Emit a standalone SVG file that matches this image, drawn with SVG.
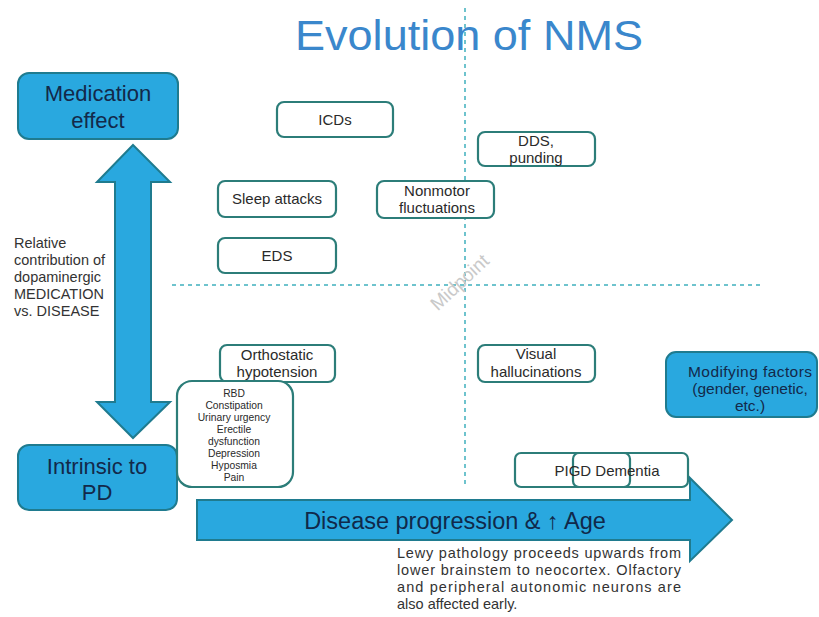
<svg xmlns="http://www.w3.org/2000/svg" width="819" height="617" viewBox="0 0 819 617">
  <style>
    .node rect { fill: #ffffff; stroke: #2c7d79; stroke-width: 2.2; }
    .node text { font-family: "Liberation Sans", Arial, sans-serif; font-size: 15px; fill: #2a2a2a; text-anchor: middle; }
    .node text.small { font-size: 10.3px; }
    .blue { fill: #29a8df; stroke: #1f7b8f; stroke-width: 2; }
    .bluetext { font-family: "Liberation Sans", Arial, sans-serif; font-size: 22px; fill: #13294a; text-anchor: middle; }
    .guide { stroke: #3fb0bd; stroke-width: 1.5; stroke-dasharray: 4 4; fill: none; }
    .body { font-family: "Liberation Sans", Arial, sans-serif; font-size: 14.5px; fill: #333333; }
    .factor { font-family: "Liberation Sans", Arial, sans-serif; font-size: 15.5px; fill: #13294a; text-anchor: middle; }
  </style>

  <rect width="819" height="617" fill="#ffffff"/>

  <!-- quadrant guides -->
  <g id="guides">
    <line class="guide" x1="465" y1="8" x2="465" y2="488"/>
    <line class="guide" x1="172" y1="285" x2="762" y2="285"/>
    <text x="0" y="0" transform="translate(464 287) rotate(-43)" font-family="'Liberation Sans', Arial, sans-serif" font-size="19" fill="#c9c9c9" text-anchor="middle">Midpoint</text>
  </g>

  <!-- title -->
  <text x="469" y="50" font-family="'Liberation Sans', Arial, sans-serif" font-size="43" fill="#3a87cc" text-anchor="middle" textLength="348" lengthAdjust="spacingAndGlyphs">Evolution of NMS</text>

  <g id="connectors">
    <!-- vertical double arrow: medication vs disease -->
    <polygon class="blue" points="133,145 170,182 151,182 151,402 170,402 133,438 97,402 115,402 115,182 97,182"/>
    <!-- disease progression arrow -->
    <polygon class="blue" points="197,500 690,500 690,478 732,520 690,561 690,540 197,540"/>
  </g>
  <text x="455" y="529" font-family="'Liberation Sans', Arial, sans-serif" font-size="23.5" fill="#10294a" text-anchor="middle">Disease progression &amp; ↑ Age</text>

  <g id="medication-effect">
    <rect class="blue" x="18" y="73" width="160" height="66" rx="11"/>
    <text class="bluetext" x="98" y="101">Medication</text>
    <text class="bluetext" x="98" y="128">effect</text>
  </g>

  <g id="intrinsic-pd">
    <rect class="blue" x="18" y="445" width="159" height="65" rx="11"/>
    <text class="bluetext" x="97" y="474">Intrinsic to</text>
    <text class="bluetext" x="97" y="500">PD</text>
  </g>

  <g id="axis-label" class="body">
    <text x="14" y="248">Relative</text>
    <text x="14" y="265">contribution of</text>
    <text x="14" y="282">dopaminergic</text>
    <text x="14" y="299">MEDICATION</text>
    <text x="14" y="316">vs. DISEASE</text>
  </g>

  <g id="icds" class="node">
    <rect x="277" y="102" width="116" height="35" rx="7"/>
    <text x="335" y="125">ICDs</text>
  </g>

  <g id="dds" class="node">
    <rect x="478" y="132" width="117" height="34" rx="7"/>
    <text x="536" y="146">DDS,</text>
    <text x="536" y="163">punding</text>
  </g>

  <g id="sleep-attacks" class="node">
    <rect x="218" y="181" width="118" height="36" rx="7"/>
    <text x="277" y="204">Sleep attacks</text>
  </g>

  <g id="nonmotor" class="node">
    <rect x="377" y="181" width="117" height="37" rx="7"/>
    <text x="437" y="196">Nonmotor</text>
    <text x="437" y="213">fluctuations</text>
  </g>

  <g id="eds" class="node">
    <rect x="218" y="238" width="118" height="35" rx="7"/>
    <text x="277" y="261">EDS</text>
  </g>

  <g id="orthostatic" class="node">
    <rect x="220" y="345" width="115" height="37" rx="7"/>
    <text x="277" y="360">Orthostatic</text>
    <text x="277" y="377">hypotension</text>
  </g>

  <g id="early-symptoms" class="node">
    <rect x="177" y="381" width="116" height="106" rx="15"/>
    <text class="small" x="234" y="397">RBD</text>
    <text class="small" x="234" y="409">Constipation</text>
    <text class="small" x="234" y="421">Urinary urgency</text>
    <text class="small" x="234" y="433">Erectile</text>
    <text class="small" x="234" y="445">dysfunction</text>
    <text class="small" x="234" y="457">Depression</text>
    <text class="small" x="234" y="469">Hyposmia</text>
    <text class="small" x="234" y="481">Pain</text>
  </g>

  <g id="visual-hallucinations" class="node">
    <rect x="478" y="345" width="117" height="37" rx="7"/>
    <text x="536" y="359">Visual</text>
    <text x="536" y="377">hallucinations</text>
  </g>

  <g id="modifying-factors">
    <rect class="blue" x="666" y="352" width="151" height="65" rx="10"/>
    <text class="factor" x="750" y="377" textLength="124" lengthAdjust="spacing">Modifying factors</text>
    <text class="factor" x="750" y="394">(gender, genetic,</text>
    <text class="factor" x="750" y="411">etc.)</text>
  </g>

  <g id="pigd-dementia" class="node">
    <rect x="515" y="453" width="173" height="34" rx="6"/>
    <rect x="573" y="453" width="57" height="34" rx="6" fill="none"/>
    <text x="607" y="476">PIGD Dementia</text>
  </g>

  <g id="pathology-note" class="body">
    <text x="397" y="558" textLength="284" lengthAdjust="spacing">Lewy pathology proceeds upwards from</text>
    <text x="397" y="575" textLength="284" lengthAdjust="spacing">lower brainstem to neocortex. Olfactory</text>
    <text x="397" y="592" textLength="284" lengthAdjust="spacing">and peripheral autonomic neurons are</text>
    <text x="397" y="609">also affected early.</text>
  </g>
</svg>
